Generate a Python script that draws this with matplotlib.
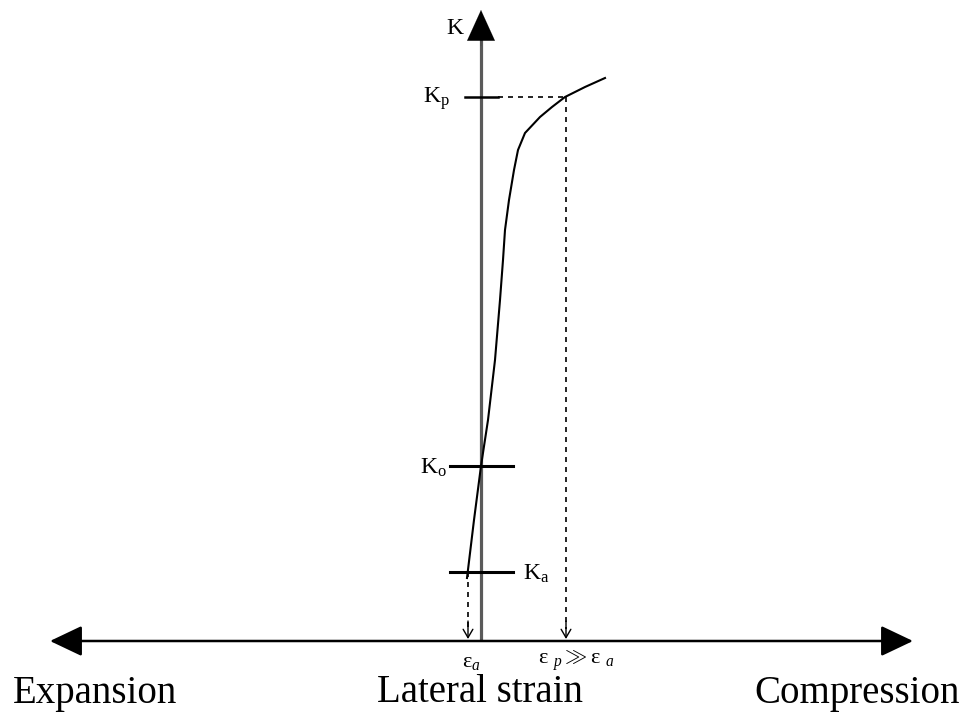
import matplotlib.pyplot as plt
import numpy as np

plt.rcParams['font.family'] = ['Liberation Serif', 'DejaVu Serif']
plt.rcParams['mathtext.fontset'] = 'custom'
plt.rcParams['mathtext.rm'] = 'Liberation Serif'
plt.rcParams['mathtext.it'] = 'Liberation Serif:italic'

# K vs lateral strain curve (strain, K) in drawing units
strain = [-0.14, -0.07, 0.00, 0.07, 0.14, 0.19, 0.22, 0.24, 0.28, 0.33, 0.37, 0.44, 0.59, 0.71, 0.84, 1.04, 1.24]
k_val = [0.63, 1.21, 1.75, 2.21, 2.81, 3.41, 3.81, 4.11, 4.41, 4.71, 4.91, 5.08, 5.24, 5.34, 5.44, 5.54, 5.63]

# characteristic K levels
k_levels = {'K_p': 5.44, 'K_o': 1.75, 'K_a': 0.69}
eps_a = -0.13
eps_p = 0.85

fig = plt.figure(figsize=(9.68, 7.14), dpi=100)
ax = fig.add_axes([0, 0, 1, 1])
ax.set_xlim(-4.81, 4.87)
ax.set_ylim(-0.73, 6.41)
ax.axis('off')

# axes with arrows
ax.plot([0, 0], [0, 6.05], color='#5a5a5a', lw=2.3, solid_capstyle='butt')
ax.annotate('', xy=(0, 6.31), xytext=(0, 5.95),
            arrowprops=dict(arrowstyle='-|>,head_length=2.2,head_width=1.0', mutation_scale=10,
                            color='black', lw=0.1, shrinkA=0, shrinkB=0))
ax.annotate('', xy=(-4.31, 0), xytext=(4.32, 0),
            arrowprops=dict(arrowstyle='<|-|>,head_length=2.0,head_width=0.95', mutation_scale=10,
                            color='black', lw=1.8, shrinkA=0, shrinkB=0))

# curve
ax.plot(strain, k_val, color='black', lw=1.5)

# K level ticks
ax.plot([-0.16, 0.17], [k_levels['K_p']] * 2, color='black', lw=1.8)
ax.plot([-0.31, 0.32], [k_levels['K_o']] * 2, color='black', lw=2.2)
ax.plot([-0.31, 0.32], [k_levels['K_a']] * 2, color='black', lw=2.2)

# dashed guides
ax.plot([0.17, eps_p], [k_levels['K_p']] * 2, color='black', lw=1.2, ls=(0, (3, 3)))
ax.plot([eps_p, eps_p], [k_levels['K_p'], 0.12], color='black', lw=1.2, ls=(0, (3, 3)))
ax.plot([eps_a, eps_a], [k_levels['K_a'], 0.12], color='black', lw=1.2, ls=(0, (3, 3)))
for xv in [eps_a, eps_p]:
    ax.annotate('', xy=(xv, 0.02), xytext=(xv, 0.2),
                arrowprops=dict(arrowstyle='->,head_length=0.6,head_width=0.35', mutation_scale=10,
                                color='black', lw=1.0, shrinkA=0, shrinkB=0))

# labels
fs = 17
ax.text(-0.26, 6.13, 'K', fontsize=fs, ha='center', va='center')
ax.text(-0.45, 5.42, r'K$_\mathrm{p}$', fontsize=fs, ha='center', va='center')
ax.text(-0.48, 1.73, r'K$_\mathrm{o}$', fontsize=fs, ha='center', va='center')
ax.text(0.55, 0.67, r'K$_\mathrm{a}$', fontsize=fs, ha='center', va='center')
ax.text(-0.10, -0.22, r'ε$_{a}$', fontsize=16, ha='center', va='center')
ax.text(0.95, -0.20, r'ε $_{p}$$\gg$ε $_{a}$', fontsize=16, ha='center', va='center')

ax.text(-3.86, -0.52, 'Expansion', fontsize=28, ha='center', va='center')
ax.text(-0.01, -0.52, 'Lateral strain', fontsize=28, ha='center', va='center')
ax.text(3.76, -0.52, 'Compression', fontsize=28, ha='center', va='center')

fig.savefig('out.png', dpi=100)
